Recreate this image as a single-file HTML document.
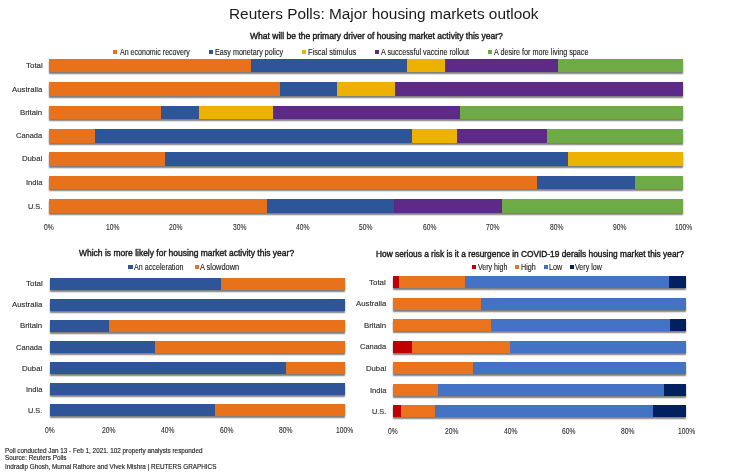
<!DOCTYPE html>
<html><head><meta charset="utf-8"><title>Reuters Polls: Major housing markets outlook</title><style>
*{margin:0;padding:0;box-sizing:border-box}
html,body{width:740px;height:472px;overflow:hidden;background:#fff}
body{position:relative;font-family:"Liberation Sans",Arial,sans-serif}
.t{position:absolute;white-space:nowrap;transform-origin:0 0;filter:grayscale(1)}
.bar{position:absolute;box-shadow:0 1.7px 1.3px rgba(0,0,0,0.5)}
.bar i{position:absolute;top:0;bottom:0}
.sq{position:absolute}
#w{position:absolute;left:0;top:0;width:740px;height:472px;background:#fff}
</style></head>
<body>
<div id="w">
<div class="t" style="left:228.75px;top:6px;font-size:15.40px;line-height:15.40px;font-weight:400;color:#1a1a1a;transform:scaleX(0.9993)">Reuters Polls: Major housing markets outlook</div>
<div class="t" style="left:249.70px;top:32px;font-size:8.60px;line-height:8.60px;font-weight:400;color:#1a1a1a;transform:scaleX(0.9931);-webkit-text-stroke:0.4px #1a1a1a">What will be the primary driver of housing market activity this year?</div>
<b class="sq" style="left:113.30px;top:49.90px;width:4.10px;height:4.00px;background:#E8711C"></b>
<div class="t" style="left:120.00px;top:49px;font-size:8.20px;line-height:8.20px;font-weight:400;color:#222;transform:scaleX(0.8629);-webkit-text-stroke:0.12px #222">An economic recovery</div>
<b class="sq" style="left:209.00px;top:49.90px;width:4.10px;height:4.00px;background:#2E5597"></b>
<div class="t" style="left:215.00px;top:49px;font-size:8.20px;line-height:8.20px;font-weight:400;color:#222;transform:scaleX(0.8751);-webkit-text-stroke:0.12px #222">Easy monetary policy</div>
<b class="sq" style="left:301.90px;top:49.90px;width:4.10px;height:4.00px;background:#EDB100"></b>
<div class="t" style="left:307.50px;top:49px;font-size:8.20px;line-height:8.20px;font-weight:400;color:#222;transform:scaleX(0.8983);-webkit-text-stroke:0.12px #222">Fiscal stimulus</div>
<b class="sq" style="left:375.30px;top:49.90px;width:4.10px;height:4.00px;background:#5E2A87"></b>
<div class="t" style="left:381.30px;top:49px;font-size:8.20px;line-height:8.20px;font-weight:400;color:#222;transform:scaleX(0.8796);-webkit-text-stroke:0.12px #222">A successful vaccine rollout</div>
<b class="sq" style="left:488.20px;top:49.90px;width:4.10px;height:4.00px;background:#6EAB46"></b>
<div class="t" style="left:494.40px;top:49px;font-size:8.20px;line-height:8.20px;font-weight:400;color:#222;transform:scaleX(0.8795);-webkit-text-stroke:0.12px #222">A desire for more living space</div>
<div class="bar" style="left:49.00px;top:58.90px;width:634.40px;height:13.60px"><i style="left:0.00px;width:201.50px;background:#E8711C"></i><i style="left:201.50px;width:156.50px;background:#2E5597"></i><i style="left:358.00px;width:38.00px;background:#EDB100"></i><i style="left:396.00px;width:113.00px;background:#5E2A87"></i><i style="left:509.00px;width:125.40px;background:#6EAB46"></i></div>
<div class="t" style="left:25.50px;top:62px;font-size:7.90px;line-height:7.90px;font-weight:400;color:#303030;transform:scaleX(1.0069);-webkit-text-stroke:0.15px #303030">Total</div>
<div class="bar" style="left:49.00px;top:82.25px;width:634.40px;height:13.60px"><i style="left:0.00px;width:231.00px;background:#E8711C"></i><i style="left:231.00px;width:57.00px;background:#2E5597"></i><i style="left:288.00px;width:58.00px;background:#EDB100"></i><i style="left:346.00px;width:288.40px;background:#5E2A87"></i></div>
<div class="t" style="left:11.90px;top:86px;font-size:7.90px;line-height:7.90px;font-weight:400;color:#303030;transform:scaleX(0.9887);-webkit-text-stroke:0.15px #303030">Australia</div>
<div class="bar" style="left:49.00px;top:105.60px;width:634.40px;height:13.60px"><i style="left:0.00px;width:112.25px;background:#E8711C"></i><i style="left:112.25px;width:37.50px;background:#2E5597"></i><i style="left:149.75px;width:74.25px;background:#EDB100"></i><i style="left:224.00px;width:187.00px;background:#5E2A87"></i><i style="left:411.00px;width:223.40px;background:#6EAB46"></i></div>
<div class="t" style="left:20.10px;top:109px;font-size:7.90px;line-height:7.90px;font-weight:400;color:#303030;transform:scaleX(0.9912);-webkit-text-stroke:0.15px #303030">Britain</div>
<div class="bar" style="left:49.00px;top:128.95px;width:634.40px;height:13.60px"><i style="left:0.00px;width:45.50px;background:#E8711C"></i><i style="left:45.50px;width:317.50px;background:#2E5597"></i><i style="left:363.00px;width:45.00px;background:#EDB100"></i><i style="left:408.00px;width:90.00px;background:#5E2A87"></i><i style="left:498.00px;width:136.40px;background:#6EAB46"></i></div>
<div class="t" style="left:16.10px;top:132px;font-size:7.90px;line-height:7.90px;font-weight:400;color:#303030;transform:scaleX(0.9465);-webkit-text-stroke:0.15px #303030">Canada</div>
<div class="bar" style="left:49.00px;top:152.30px;width:634.40px;height:13.60px"><i style="left:0.00px;width:116.00px;background:#E8711C"></i><i style="left:116.00px;width:403.00px;background:#2E5597"></i><i style="left:519.00px;width:115.40px;background:#EDB100"></i></div>
<div class="t" style="left:22.10px;top:155px;font-size:7.90px;line-height:7.90px;font-weight:400;color:#303030;transform:scaleX(0.9786);-webkit-text-stroke:0.15px #303030">Dubai</div>
<div class="bar" style="left:49.00px;top:175.65px;width:634.40px;height:13.60px"><i style="left:0.00px;width:488.00px;background:#E8711C"></i><i style="left:488.00px;width:97.50px;background:#2E5597"></i><i style="left:585.50px;width:48.90px;background:#6EAB46"></i></div>
<div class="t" style="left:25.80px;top:179px;font-size:7.90px;line-height:7.90px;font-weight:400;color:#303030;transform:scaleX(0.9629);-webkit-text-stroke:0.15px #303030">India</div>
<div class="bar" style="left:49.00px;top:199.00px;width:634.40px;height:13.60px"><i style="left:0.00px;width:217.75px;background:#E8711C"></i><i style="left:217.75px;width:127.00px;background:#2E5597"></i><i style="left:344.75px;width:108.25px;background:#5E2A87"></i><i style="left:453.00px;width:181.40px;background:#6EAB46"></i></div>
<div class="t" style="left:28.00px;top:203px;font-size:7.90px;line-height:7.90px;font-weight:400;color:#303030;transform:scaleX(0.9307);-webkit-text-stroke:0.15px #303030">U.S.</div>
<div class="t" style="left:44.14px;top:224px;font-size:8.20px;line-height:8.20px;font-weight:400;color:#2a2a2a;transform:scaleX(0.8200);-webkit-text-stroke:0.1px #2a2a2a">0%</div>
<div class="t" style="left:105.71px;top:224px;font-size:8.20px;line-height:8.20px;font-weight:400;color:#2a2a2a;transform:scaleX(0.8200);-webkit-text-stroke:0.1px #2a2a2a">10%</div>
<div class="t" style="left:169.15px;top:224px;font-size:8.20px;line-height:8.20px;font-weight:400;color:#2a2a2a;transform:scaleX(0.8200);-webkit-text-stroke:0.1px #2a2a2a">20%</div>
<div class="t" style="left:232.59px;top:224px;font-size:8.20px;line-height:8.20px;font-weight:400;color:#2a2a2a;transform:scaleX(0.8200);-webkit-text-stroke:0.1px #2a2a2a">30%</div>
<div class="t" style="left:296.03px;top:224px;font-size:8.20px;line-height:8.20px;font-weight:400;color:#2a2a2a;transform:scaleX(0.8200);-webkit-text-stroke:0.1px #2a2a2a">40%</div>
<div class="t" style="left:359.47px;top:224px;font-size:8.20px;line-height:8.20px;font-weight:400;color:#2a2a2a;transform:scaleX(0.8200);-webkit-text-stroke:0.1px #2a2a2a">50%</div>
<div class="t" style="left:422.91px;top:224px;font-size:8.20px;line-height:8.20px;font-weight:400;color:#2a2a2a;transform:scaleX(0.8200);-webkit-text-stroke:0.1px #2a2a2a">60%</div>
<div class="t" style="left:486.35px;top:224px;font-size:8.20px;line-height:8.20px;font-weight:400;color:#2a2a2a;transform:scaleX(0.8200);-webkit-text-stroke:0.1px #2a2a2a">70%</div>
<div class="t" style="left:549.79px;top:224px;font-size:8.20px;line-height:8.20px;font-weight:400;color:#2a2a2a;transform:scaleX(0.8200);-webkit-text-stroke:0.1px #2a2a2a">80%</div>
<div class="t" style="left:613.23px;top:224px;font-size:8.20px;line-height:8.20px;font-weight:400;color:#2a2a2a;transform:scaleX(0.8200);-webkit-text-stroke:0.1px #2a2a2a">90%</div>
<div class="t" style="left:674.80px;top:224px;font-size:8.20px;line-height:8.20px;font-weight:400;color:#2a2a2a;transform:scaleX(0.8200);-webkit-text-stroke:0.1px #2a2a2a">100%</div>
<div class="t" style="left:78.50px;top:249px;font-size:8.60px;line-height:8.60px;font-weight:400;color:#1a1a1a;transform:scaleX(0.9877);-webkit-text-stroke:0.4px #1a1a1a">Which is more likely for housing market activity this year?</div>
<b class="sq" style="left:128.40px;top:265.10px;width:4.30px;height:4.10px;background:#2E5597"></b>
<div class="t" style="left:134.25px;top:264px;font-size:8.20px;line-height:8.20px;font-weight:400;color:#222;transform:scaleX(0.8758);-webkit-text-stroke:0.12px #222">An acceleration</div>
<b class="sq" style="left:194.60px;top:265.10px;width:4.30px;height:4.10px;background:#E8711C"></b>
<div class="t" style="left:199.50px;top:264px;font-size:8.20px;line-height:8.20px;font-weight:400;color:#222;transform:scaleX(0.9064);-webkit-text-stroke:0.12px #222">A slowdown</div>
<div class="bar" style="left:49.90px;top:277.80px;width:295.10px;height:11.90px"><i style="left:0.00px;width:171.10px;background:#2E5597"></i><i style="left:171.10px;width:124.00px;background:#E8711C"></i></div>
<div class="t" style="left:25.70px;top:280px;font-size:7.90px;line-height:7.90px;font-weight:400;color:#303030;transform:scaleX(1.0069);-webkit-text-stroke:0.15px #303030">Total</div>
<div class="bar" style="left:49.90px;top:298.90px;width:295.10px;height:11.90px"><i style="left:0.00px;width:295.10px;background:#2E5597"></i></div>
<div class="t" style="left:12.10px;top:301px;font-size:7.90px;line-height:7.90px;font-weight:400;color:#303030;transform:scaleX(0.9887);-webkit-text-stroke:0.15px #303030">Australia</div>
<div class="bar" style="left:49.90px;top:320.00px;width:295.10px;height:11.90px"><i style="left:0.00px;width:59.10px;background:#2E5597"></i><i style="left:59.10px;width:236.00px;background:#E8711C"></i></div>
<div class="t" style="left:20.30px;top:322px;font-size:7.90px;line-height:7.90px;font-weight:400;color:#303030;transform:scaleX(0.9912);-webkit-text-stroke:0.15px #303030">Britain</div>
<div class="bar" style="left:49.90px;top:341.10px;width:295.10px;height:11.90px"><i style="left:0.00px;width:105.50px;background:#2E5597"></i><i style="left:105.50px;width:189.60px;background:#E8711C"></i></div>
<div class="t" style="left:16.30px;top:344px;font-size:7.90px;line-height:7.90px;font-weight:400;color:#303030;transform:scaleX(0.9465);-webkit-text-stroke:0.15px #303030">Canada</div>
<div class="bar" style="left:49.90px;top:362.20px;width:295.10px;height:11.90px"><i style="left:0.00px;width:236.30px;background:#2E5597"></i><i style="left:236.30px;width:58.80px;background:#E8711C"></i></div>
<div class="t" style="left:22.30px;top:365px;font-size:7.90px;line-height:7.90px;font-weight:400;color:#303030;transform:scaleX(0.9786);-webkit-text-stroke:0.15px #303030">Dubai</div>
<div class="bar" style="left:49.90px;top:383.30px;width:295.10px;height:11.90px"><i style="left:0.00px;width:295.10px;background:#2E5597"></i></div>
<div class="t" style="left:26.00px;top:386px;font-size:7.90px;line-height:7.90px;font-weight:400;color:#303030;transform:scaleX(0.9629);-webkit-text-stroke:0.15px #303030">India</div>
<div class="bar" style="left:49.90px;top:404.40px;width:295.10px;height:11.90px"><i style="left:0.00px;width:165.10px;background:#2E5597"></i><i style="left:165.10px;width:130.00px;background:#E8711C"></i></div>
<div class="t" style="left:28.20px;top:407px;font-size:7.90px;line-height:7.90px;font-weight:400;color:#303030;transform:scaleX(0.9307);-webkit-text-stroke:0.15px #303030">U.S.</div>
<div class="t" style="left:45.04px;top:427px;font-size:8.20px;line-height:8.20px;font-weight:400;color:#2a2a2a;transform:scaleX(0.8200);-webkit-text-stroke:0.1px #2a2a2a">0%</div>
<div class="t" style="left:102.19px;top:427px;font-size:8.20px;line-height:8.20px;font-weight:400;color:#2a2a2a;transform:scaleX(0.8200);-webkit-text-stroke:0.1px #2a2a2a">20%</div>
<div class="t" style="left:161.21px;top:427px;font-size:8.20px;line-height:8.20px;font-weight:400;color:#2a2a2a;transform:scaleX(0.8200);-webkit-text-stroke:0.1px #2a2a2a">40%</div>
<div class="t" style="left:220.23px;top:427px;font-size:8.20px;line-height:8.20px;font-weight:400;color:#2a2a2a;transform:scaleX(0.8200);-webkit-text-stroke:0.1px #2a2a2a">60%</div>
<div class="t" style="left:279.25px;top:427px;font-size:8.20px;line-height:8.20px;font-weight:400;color:#2a2a2a;transform:scaleX(0.8200);-webkit-text-stroke:0.1px #2a2a2a">80%</div>
<div class="t" style="left:336.40px;top:427px;font-size:8.20px;line-height:8.20px;font-weight:400;color:#2a2a2a;transform:scaleX(0.8200);-webkit-text-stroke:0.1px #2a2a2a">100%</div>
<div class="t" style="left:376.10px;top:250px;font-size:8.60px;line-height:8.60px;font-weight:400;color:#1a1a1a;transform:scaleX(0.9695);-webkit-text-stroke:0.4px #1a1a1a">How serious a risk is it a resurgence in COVID-19 derails housing market this year?</div>
<b class="sq" style="left:471.80px;top:265.10px;width:4.20px;height:3.90px;background:#C00000"></b>
<div class="t" style="left:478.00px;top:264px;font-size:8.20px;line-height:8.20px;font-weight:400;color:#222;transform:scaleX(0.8629);-webkit-text-stroke:0.12px #222">Very high</div>
<b class="sq" style="left:515.30px;top:265.10px;width:4.20px;height:3.90px;background:#EA731E"></b>
<div class="t" style="left:520.75px;top:264px;font-size:8.20px;line-height:8.20px;font-weight:400;color:#222;transform:scaleX(0.8745);-webkit-text-stroke:0.12px #222">High</div>
<b class="sq" style="left:543.60px;top:265.10px;width:4.20px;height:3.90px;background:#4472C4"></b>
<div class="t" style="left:548.75px;top:264px;font-size:8.20px;line-height:8.20px;font-weight:400;color:#222;transform:scaleX(0.8796);-webkit-text-stroke:0.12px #222">Low</div>
<b class="sq" style="left:569.80px;top:265.10px;width:4.20px;height:3.90px;background:#002060"></b>
<div class="t" style="left:575.00px;top:264px;font-size:8.20px;line-height:8.20px;font-weight:400;color:#222;transform:scaleX(0.8706);-webkit-text-stroke:0.12px #222">Very low</div>
<div class="bar" style="left:393.10px;top:276.00px;width:293.30px;height:12.00px"><i style="left:0.00px;width:5.70px;background:#C00000"></i><i style="left:5.70px;width:65.85px;background:#EA731E"></i><i style="left:71.55px;width:204.55px;background:#4472C4"></i><i style="left:276.10px;width:17.20px;background:#002060"></i></div>
<div class="t" style="left:369.20px;top:279px;font-size:7.90px;line-height:7.90px;font-weight:400;color:#303030;transform:scaleX(1.0069);-webkit-text-stroke:0.15px #303030">Total</div>
<div class="bar" style="left:393.10px;top:297.58px;width:293.30px;height:12.00px"><i style="left:0.00px;width:87.50px;background:#EA731E"></i><i style="left:87.50px;width:205.80px;background:#4472C4"></i></div>
<div class="t" style="left:355.60px;top:300px;font-size:7.90px;line-height:7.90px;font-weight:400;color:#303030;transform:scaleX(0.9887);-webkit-text-stroke:0.15px #303030">Australia</div>
<div class="bar" style="left:393.10px;top:319.16px;width:293.30px;height:12.00px"><i style="left:0.00px;width:97.90px;background:#EA731E"></i><i style="left:97.90px;width:179.40px;background:#4472C4"></i><i style="left:277.30px;width:16.00px;background:#002060"></i></div>
<div class="t" style="left:363.80px;top:322px;font-size:7.90px;line-height:7.90px;font-weight:400;color:#303030;transform:scaleX(0.9912);-webkit-text-stroke:0.15px #303030">Britain</div>
<div class="bar" style="left:393.10px;top:340.74px;width:293.30px;height:12.00px"><i style="left:0.00px;width:19.20px;background:#C00000"></i><i style="left:19.20px;width:98.10px;background:#EA731E"></i><i style="left:117.30px;width:176.00px;background:#4472C4"></i></div>
<div class="t" style="left:359.80px;top:343px;font-size:7.90px;line-height:7.90px;font-weight:400;color:#303030;transform:scaleX(0.9465);-webkit-text-stroke:0.15px #303030">Canada</div>
<div class="bar" style="left:393.10px;top:362.32px;width:293.30px;height:12.00px"><i style="left:0.00px;width:80.00px;background:#EA731E"></i><i style="left:80.00px;width:213.30px;background:#4472C4"></i></div>
<div class="t" style="left:365.80px;top:365px;font-size:7.90px;line-height:7.90px;font-weight:400;color:#303030;transform:scaleX(0.9786);-webkit-text-stroke:0.15px #303030">Dubai</div>
<div class="bar" style="left:393.10px;top:383.90px;width:293.30px;height:12.00px"><i style="left:0.00px;width:44.90px;background:#EA731E"></i><i style="left:44.90px;width:225.90px;background:#4472C4"></i><i style="left:270.80px;width:22.50px;background:#002060"></i></div>
<div class="t" style="left:369.50px;top:387px;font-size:7.90px;line-height:7.90px;font-weight:400;color:#303030;transform:scaleX(0.9629);-webkit-text-stroke:0.15px #303030">India</div>
<div class="bar" style="left:393.10px;top:405.48px;width:293.30px;height:12.00px"><i style="left:0.00px;width:7.90px;background:#C00000"></i><i style="left:7.90px;width:33.90px;background:#EA731E"></i><i style="left:41.80px;width:218.00px;background:#4472C4"></i><i style="left:259.80px;width:33.50px;background:#002060"></i></div>
<div class="t" style="left:371.70px;top:408px;font-size:7.90px;line-height:7.90px;font-weight:400;color:#303030;transform:scaleX(0.9307);-webkit-text-stroke:0.15px #303030">U.S.</div>
<div class="t" style="left:388.24px;top:428px;font-size:8.20px;line-height:8.20px;font-weight:400;color:#2a2a2a;transform:scaleX(0.8200);-webkit-text-stroke:0.1px #2a2a2a">0%</div>
<div class="t" style="left:445.03px;top:428px;font-size:8.20px;line-height:8.20px;font-weight:400;color:#2a2a2a;transform:scaleX(0.8200);-webkit-text-stroke:0.1px #2a2a2a">20%</div>
<div class="t" style="left:503.69px;top:428px;font-size:8.20px;line-height:8.20px;font-weight:400;color:#2a2a2a;transform:scaleX(0.8200);-webkit-text-stroke:0.1px #2a2a2a">40%</div>
<div class="t" style="left:562.35px;top:428px;font-size:8.20px;line-height:8.20px;font-weight:400;color:#2a2a2a;transform:scaleX(0.8200);-webkit-text-stroke:0.1px #2a2a2a">60%</div>
<div class="t" style="left:621.01px;top:428px;font-size:8.20px;line-height:8.20px;font-weight:400;color:#2a2a2a;transform:scaleX(0.8200);-webkit-text-stroke:0.1px #2a2a2a">80%</div>
<div class="t" style="left:677.80px;top:428px;font-size:8.20px;line-height:8.20px;font-weight:400;color:#2a2a2a;transform:scaleX(0.8200);-webkit-text-stroke:0.1px #2a2a2a">100%</div>
<div class="t" style="left:4.90px;top:448px;font-size:7.10px;line-height:7.10px;font-weight:400;color:#1e1e1e;transform:scaleX(0.8924);-webkit-text-stroke:0.15px #1e1e1e">Poll conducted Jan 13 - Feb 1, 2021. 102 property analysts responded</div>
<div class="t" style="left:4.90px;top:455px;font-size:7.10px;line-height:7.10px;font-weight:400;color:#1e1e1e;transform:scaleX(0.8971);-webkit-text-stroke:0.15px #1e1e1e">Source: Reuters Polls</div>
<div class="t" style="left:4.90px;top:464px;font-size:7.10px;line-height:7.10px;font-weight:400;color:#1e1e1e;transform:scaleX(0.8962);-webkit-text-stroke:0.15px #1e1e1e">Indradip Ghosh, Mumal Rathore and Vivek Mishra | REUTERS GRAPHICS</div>
</div>
</body></html>
